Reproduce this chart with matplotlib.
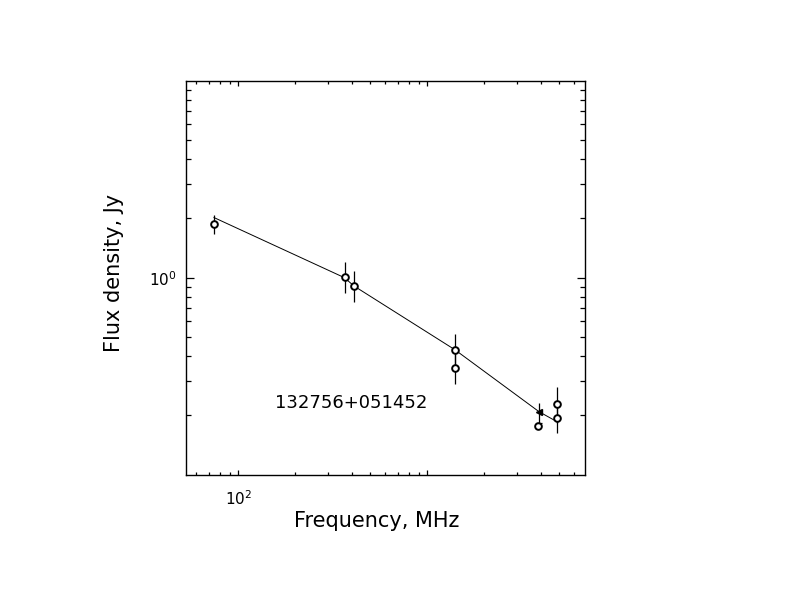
import matplotlib
matplotlib.use("Agg")
import matplotlib.pyplot as plt
from matplotlib.ticker import FixedLocator, NullFormatter

# measured points (open circles)
freq = [74.4, 365, 408, 1400, 1400, 3850, 4850, 4850]
flux = [1.87, 1.005, 0.908, 0.431, 0.347, 0.177, 0.2285, 0.193]
err_lo = [0.20, 0.166, 0.153, 0.071, 0.059, 0.0, 0.045, 0.031]
err_hi = [0.21, 0.195, 0.172, 0.087, 0.065, 0.0, 0.050, 0.034]

# point drawn as filled triangle
tri_freq = [3900]
tri_flux = [0.209]
tri_lo = [0.025]
tri_hi = [0.021]

# model spectrum at the data frequencies
curve_freq = [74.4, 365, 408, 1400, 3900, 4850]
curve_flux = [2.02, 1.0, 0.91, 0.431, 0.209, 0.186]

source_name = "132756+051452"

fig = plt.figure(figsize=(7.92, 6.12), dpi=100)
ax = fig.add_axes([186 / 792, 137 / 612, 399 / 792, 393.7 / 612])
ax.set_xscale("log")
ax.set_yscale("log")
ax.set_xlim(52.9, 6830)
ax.set_ylim(0.0997, 9.93)

ax.plot(curve_freq, curve_flux, color="black", lw=0.7)
ax.errorbar(freq, flux, yerr=[err_lo, err_hi], fmt="none", ecolor="black",
            elinewidth=0.9, capsize=0)
ax.plot(freq, flux, "o", mfc="white", mec="black", ms=4.8, mew=1.4)
ax.errorbar(tri_freq, tri_flux, yerr=[tri_lo, tri_hi], fmt="<", color="black",
            ms=4.8, elinewidth=0.9, capsize=0)
# small bar at the lower end of the triangle's error bar
ax.plot(tri_freq, [f - e for f, e in zip(tri_flux, tri_lo)], "_", color="black",
        ms=4, mew=0.9)

ax.text(395, 0.23, source_name, ha="center", va="center", fontsize=13)

# ticks
ax.xaxis.set_major_locator(FixedLocator([100, 1000]))
ax.set_xticklabels(["$10^{2}$", ""])
xminor = [60, 70, 80, 90] + [200, 300, 400, 500, 600, 700, 800, 900] + [2000, 3000, 4000, 5000, 6000]
ax.xaxis.set_minor_locator(FixedLocator(xminor))
ax.xaxis.set_minor_formatter(NullFormatter())

ax.yaxis.set_major_locator(FixedLocator([1]))
ax.set_yticklabels(["$10^{0}$"])
yminor = [0.2, 0.3, 0.4, 0.5, 0.6, 0.7, 0.8, 0.9, 2, 3, 4, 5, 6, 7, 8, 9]
ax.yaxis.set_minor_locator(FixedLocator(yminor))
ax.yaxis.set_minor_formatter(NullFormatter())

ax.tick_params(axis="both", which="both", direction="in", top=True, right=True,
               width=0.9, labelsize=11)
ax.tick_params(axis="x", which="major", length=3.6, pad=10)
ax.tick_params(axis="x", which="minor", length=2.2)
ax.tick_params(axis="y", which="major", length=5.8, pad=7)
ax.tick_params(axis="y", which="minor", length=3.6)
for sp in ax.spines.values():
    sp.set_linewidth(1.0)

fig.text(377 / 792, 1 - 521 / 612, "Frequency, MHz", ha="center", va="center",
         fontsize=15)
fig.text(114 / 792, 1 - 273 / 612, "Flux density, Jy", ha="center", va="center",
         rotation=90, fontsize=15)

fig.savefig("out.png", dpi=100)
